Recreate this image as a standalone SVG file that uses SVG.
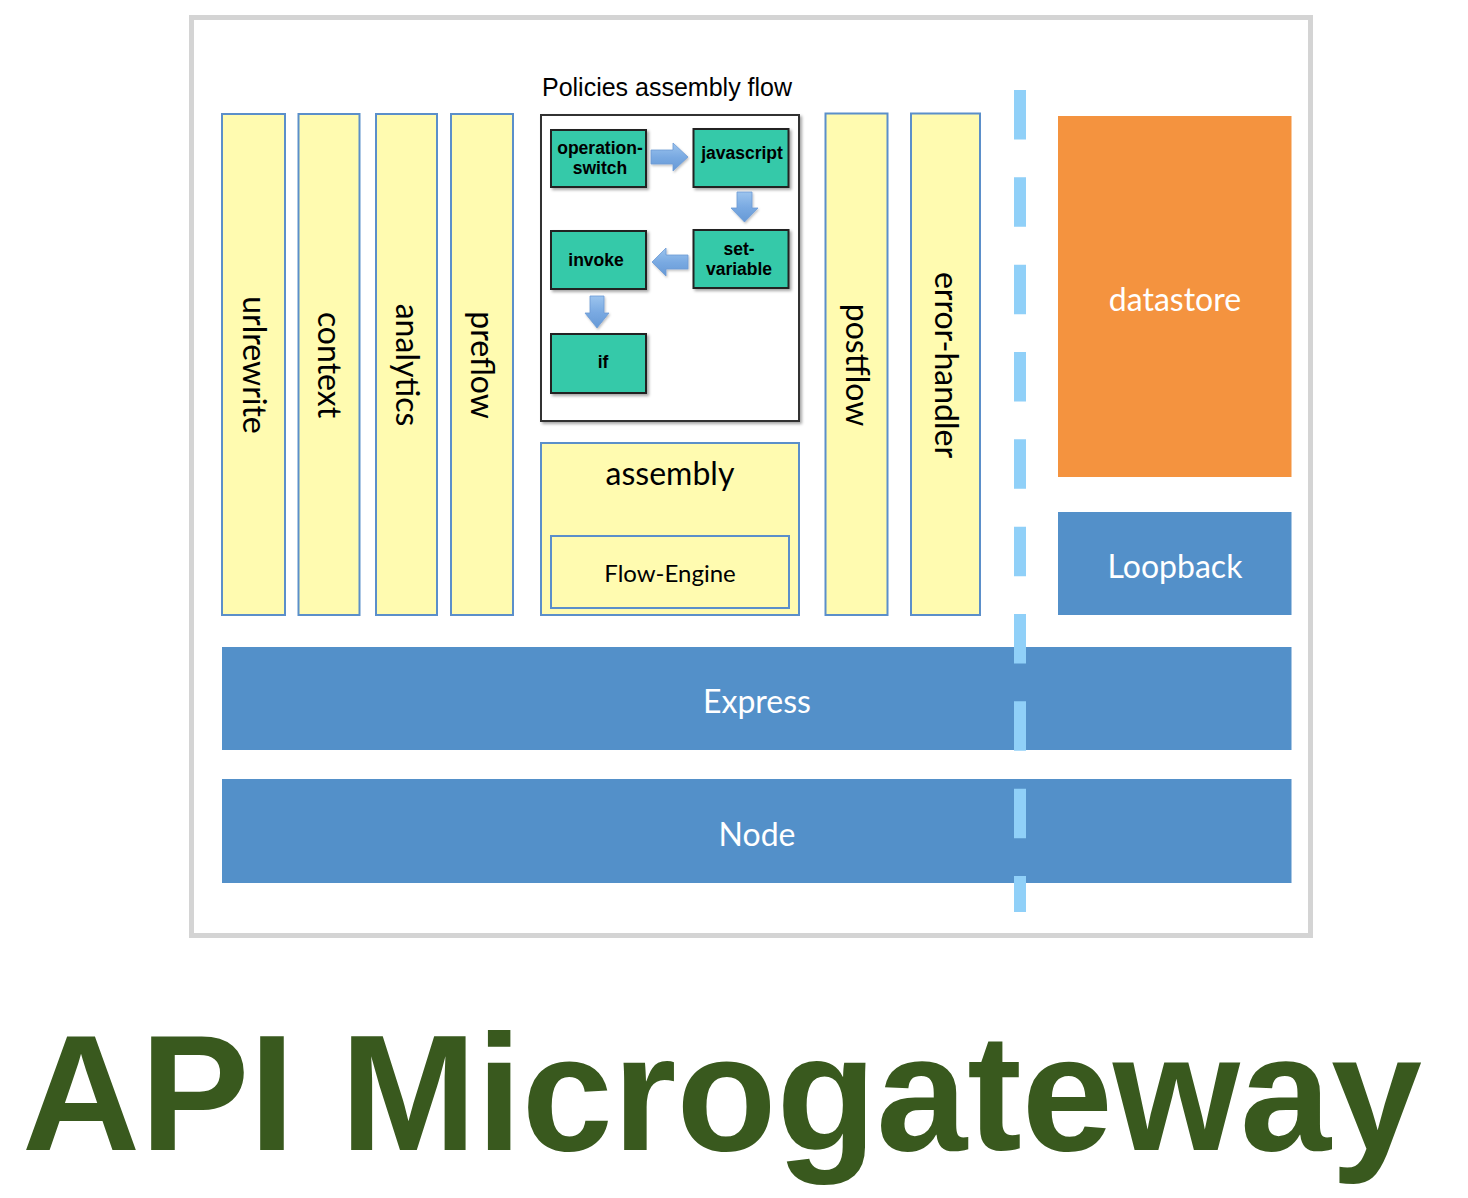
<svg xmlns="http://www.w3.org/2000/svg" width="1468" height="1198" viewBox="0 0 1468 1198">
  <defs>
    <style>
      .col { fill: #fffbb0; stroke: #5b8fca; stroke-width: 2; }
      .blue { fill: #5390c9; }
      .lbl { font-family: Lato, "Open Sans", sans-serif; font-size: 32px; fill: #000; text-anchor: middle; }
      .wlbl { font-family: Lato, "Open Sans", sans-serif; font-size: 32px; fill: #ffffff; text-anchor: middle; }
      .pol { fill: #34c9a9; stroke: #222222; stroke-width: 2; filter: url(#sh); }
      .ptxt { font-family: "Liberation Sans", Arial, sans-serif; font-weight: bold; font-size: 17.5px; fill: #000; text-anchor: middle; }
      .arr { fill: url(#ag); stroke: #6c9bd4; stroke-width: 0.8; filter: url(#sh2); }
    </style>
    <filter id="sh" x="-20%" y="-20%" width="140%" height="140%">
      <feDropShadow dx="2" dy="2" stdDeviation="1.5" flood-color="#000" flood-opacity="0.35"/>
    </filter>
    <filter id="sh2" x="-20%" y="-20%" width="140%" height="140%">
      <feDropShadow dx="1" dy="1.5" stdDeviation="1" flood-color="#000" flood-opacity="0.25"/>
    </filter>
    <linearGradient id="ag" x1="0" y1="0" x2="0" y2="1">
      <stop offset="0" stop-color="#9cc4ee"/>
      <stop offset="0.5" stop-color="#7aaae2"/>
      <stop offset="1" stop-color="#6699d6"/>
    </linearGradient>
  </defs>

  <rect id="frame" x="191.5" y="17.5" width="1119" height="918" fill="#ffffff" stroke="#d4d4d4" stroke-width="5"/>

  <g id="urlrewrite">
    <rect class="col" x="222" y="114" width="63" height="501"/>
    <text class="lbl" transform="translate(253.5 365) rotate(90)" y="11">urlrewrite</text>
  </g>
  <g id="context">
    <rect class="col" x="298.5" y="114" width="61" height="501"/>
    <text class="lbl" transform="translate(329 365) rotate(90)" y="11">context</text>
  </g>
  <g id="analytics">
    <rect class="col" x="376" y="114" width="61" height="501"/>
    <text class="lbl" transform="translate(406.5 365) rotate(90)" y="11">analytics</text>
  </g>
  <g id="preflow">
    <rect class="col" x="451" y="114" width="62" height="501"/>
    <text class="lbl" transform="translate(482 365) rotate(90)" y="11">preflow</text>
  </g>
  <g id="postflow">
    <rect class="col" x="825.5" y="113.5" width="62" height="501.5"/>
    <text class="lbl" transform="translate(856.5 365) rotate(90)" y="11">postflow</text>
  </g>
  <g id="error-handler">
    <rect class="col" x="911" y="113.5" width="69" height="501.5"/>
    <text class="lbl" transform="translate(945.5 365) rotate(90)" y="11">error-handler</text>
  </g>

  <g id="policies-assembly-flow">
    <text x="667" y="96" font-family="'Liberation Sans', Arial, sans-serif" font-size="25" fill="#000" text-anchor="middle">Policies assembly flow</text>
    <rect x="541" y="115" width="258" height="306" fill="#ffffff" stroke="#333333" stroke-width="2" filter="url(#sh)"/>
  </g>

  <g id="operation-switch">
    <rect class="pol" x="551" y="130" width="95" height="57"/>
    <text class="ptxt" x="600" y="154">operation-</text>
    <text class="ptxt" x="600" y="174">switch</text>
  </g>
  <g id="javascript">
    <rect class="pol" x="693.5" y="129" width="95" height="58"/>
    <text class="ptxt" x="742" y="159">javascript</text>
  </g>
  <g id="set-variable">
    <rect class="pol" x="693.5" y="230" width="95" height="58"/>
    <text class="ptxt" x="739" y="255">set-</text>
    <text class="ptxt" x="739" y="275">variable</text>
  </g>
  <g id="invoke">
    <rect class="pol" x="551" y="231" width="95" height="58"/>
    <text class="ptxt" x="596" y="266">invoke</text>
  </g>
  <g id="if">
    <rect class="pol" x="551" y="334" width="95" height="59"/>
    <text class="ptxt" x="603" y="368">if</text>
  </g>

  <g id="connectors">
    <polygon class="arr" points="651,150 673,150 673,143 688,157 673,171 673,164 651,164"/>
    <polygon class="arr" points="737,192 752,192 752,208 758,208 744.5,222 731,208 737,208"/>
    <polygon class="arr" points="688,255 666,255 666,248 652,262 666,276 666,269 688,269"/>
    <polygon class="arr" points="590,296 604,296 604,313 609,313 597,328 585,313 590,313"/>
  </g>

  <g id="assembly">
    <rect class="col" x="541" y="443" width="258" height="172"/>
    <text class="lbl" x="670" y="485">assembly</text>
  </g>
  <g id="flow-engine">
    <rect class="col" x="551" y="536" width="238" height="72"/>
    <text class="lbl" x="670" y="582" style="font-size:24px">Flow-Engine</text>
  </g>

  <g id="datastore">
    <rect x="1058" y="116" width="233.5" height="361" fill="#f4933f"/>
    <text class="wlbl" x="1175" y="311">datastore</text>
  </g>
  <g id="loopback">
    <rect class="blue" x="1058" y="512" width="233.5" height="103"/>
    <text class="wlbl" x="1175" y="578">Loopback</text>
  </g>
  <g id="express">
    <rect class="blue" x="222" y="647" width="1069.5" height="103"/>
    <text class="wlbl" x="757" y="713">Express</text>
  </g>
  <g id="node">
    <rect class="blue" x="222" y="779" width="1069.5" height="104"/>
    <text class="wlbl" x="757" y="846">Node</text>
  </g>

  <g id="divider">
    <line x1="1020" y1="90" x2="1020" y2="912" stroke="#90d0f8" stroke-width="12" stroke-dasharray="49.5 37.83"/>
  </g>

  <text id="title" x="22" y="1150" font-family="'Liberation Sans', Arial, sans-serif" font-weight="bold" font-size="166" fill="#39591e" textLength="1400" lengthAdjust="spacingAndGlyphs">API Microgateway</text>
</svg>
